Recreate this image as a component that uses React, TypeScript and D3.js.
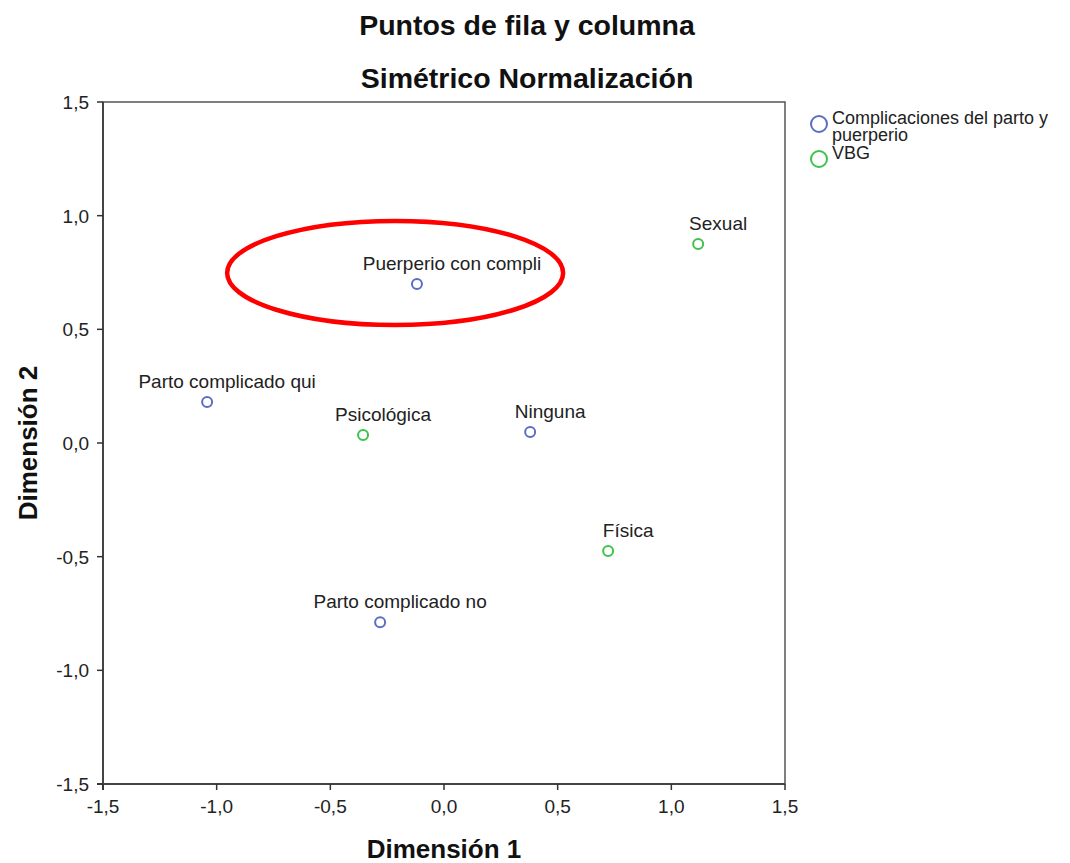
import React from "react";
import * as d3 from "d3";

const W = 1070;
const H = 863;

const titleLines = ["Puntos de fila y columna", "Simétrico Normalización"];
const xAxisTitle = "Dimensión 1";
const yAxisTitle = "Dimensión 2";

const rowLabels = ["Puerperio con compli", "Parto complicado qui", "Ninguna", "Parto complicado no"];
const rowDim1 = [-0.119, -1.042, 0.379, -0.281];
const rowDim2 = [0.699, 0.18, 0.048, -0.788];

const colLabels = ["Sexual", "Psicológica", "Física"];
const colDim1 = [1.118, -0.356, 0.722];
const colDim2 = [0.875, 0.035, -0.475];

const seriesNames = ["Complicaciones del parto y\npuerperio", "VBG"];
const seriesColors = ["#5a6fc4", "#3fc24c"];

const tickValues = [-1.5, -1.0, -0.5, 0.0, 0.5, 1.0, 1.5];
const tickLabels = ["-1,5", "-1,0", "-0,5", "0,0", "0,5", "1,0", "1,5"];

// highlight ellipse (data units)
const ellipseCenter = [-0.215, 0.748];
const ellipseRadii = [0.739, 0.229];

// label placement (pixels)
const LABEL_DX = 20;
const LABEL_DY = -14;
const labelExtraDx: Record<string, number> = { "Puerperio con compli": 15 };

const FONT = "'Liberation Sans', Arial, sans-serif";

export default function App() {
  const left = 103, right = 785, top = 102, bottom = 784;
  const x = d3.scaleLinear().domain([-1.5, 1.5]).range([left, right]);
  const y = d3.scaleLinear().domain([-1.5, 1.5]).range([bottom, top]);

  const series = [
    { labels: rowLabels, d1: rowDim1, d2: rowDim2, color: seriesColors[0] },
    { labels: colLabels, d1: colDim1, d2: colDim2, color: seriesColors[1] },
  ];

  return (
    <div style={{ position: "absolute", left: 0, top: 0 }}>
      <svg width={W} height={H} style={{ display: "block", background: "#fff" }} fontFamily={FONT}>
        <rect x={0} y={0} width={W} height={H} fill="#fff" />
        {titleLines.map((t, i) => (
          <text key={i} x={527} y={35 + i * 53} textAnchor="middle" fontSize={28.5} fontWeight="bold" fill="#111">
            {t}
          </text>
        ))}

        {/* frame */}
        <rect x={left} y={top} width={right - left} height={bottom - top} fill="none" stroke="#555" strokeWidth={1.5} />
        <line x1={left} x2={left} y1={top} y2={bottom + 6} stroke="#444" strokeWidth={2} />
        <line x1={left - 6} x2={right} y1={bottom} y2={bottom} stroke="#444" strokeWidth={2} />

        {/* x ticks */}
        {tickValues.map((v, i) => (
          <g key={"x" + i}>
            <line x1={x(v)} x2={x(v)} y1={bottom} y2={bottom + 6} stroke="#333" strokeWidth={1.5} />
            <text x={x(v)} y={813} textAnchor="middle" fontSize={19} fill="#222">
              {tickLabels[i]}
            </text>
          </g>
        ))}
        {/* y ticks */}
        {tickValues.map((v, i) => (
          <g key={"y" + i}>
            <line x1={left - 6} x2={left} y1={y(v)} y2={y(v)} stroke="#333" strokeWidth={1.5} />
            <text x={89} y={y(v) + 7} textAnchor="end" fontSize={19} fill="#222">
              {tickLabels[i]}
            </text>
          </g>
        ))}

        <text x={(left + right) / 2} y={858} textAnchor="middle" fontSize={26} fontWeight="bold" fill="#111">
          {xAxisTitle}
        </text>
        <text
          transform={`translate(37,${(top + bottom) / 2}) rotate(-90)`}
          textAnchor="middle"
          fontSize={26}
          fontWeight="bold"
          fill="#111"
        >
          {yAxisTitle}
        </text>

        {/* points */}
        {series.map((s, si) =>
          s.labels.map((lab, i) => (
            <g key={si + "-" + i}>
              <circle cx={x(s.d1[i])} cy={y(s.d2[i])} r={5} fill="none" stroke={s.color} strokeWidth={2} />
              <text
                x={x(s.d1[i]) + LABEL_DX + (labelExtraDx[lab] || 0)}
                y={y(s.d2[i]) + LABEL_DY}
                textAnchor="middle"
                fontSize={19}
                fill="#222"
              >
                {lab}
              </text>
            </g>
          ))
        )}

        {/* highlight ellipse */}
        <ellipse
          cx={x(ellipseCenter[0])}
          cy={y(ellipseCenter[1])}
          rx={x(ellipseRadii[0]) - x(0)}
          ry={y(0) - y(ellipseRadii[1])}
          fill="none"
          stroke="#ff0000"
          strokeWidth={4.5}
        />

        {/* legend */}
        {seriesNames.map((n, i) => {
          const cy = i === 0 ? 124 : 159;
          const lines = n.split("\n");
          return (
            <g key={"l" + i}>
              <circle cx={819} cy={cy} r={8} fill="none" stroke={seriesColors[i]} strokeWidth={2} />
              {lines.map((ln, j) => (
                <text key={j} x={832} y={cy + 0 + j * 17} fontSize={18} fill="#222">
                  {ln}
                </text>
              ))}
            </g>
          );
        })}
      </svg>
    </div>
  );
}
